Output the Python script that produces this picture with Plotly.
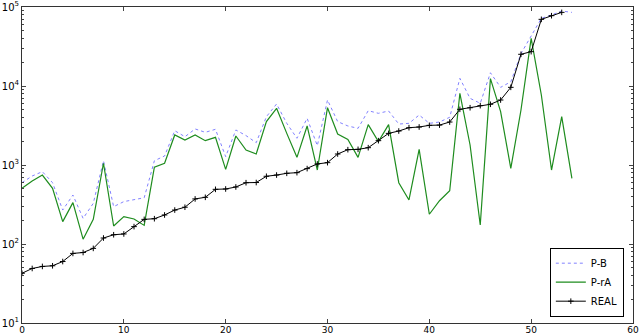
import plotly.graph_objects as go

x_pb = list(range(55))
x_real = list(range(54))

p_b = [597, 726, 823, 597, 269, 417, 211, 327, 1133, 297,
       344, 367, 385, 1133, 1300, 2717, 2280, 2860, 2593, 2831,
       1275, 2776, 2356, 1915, 4090, 5920, 3370, 2180, 3900, 1757,
       6650, 3540, 3120, 2910, 4870, 4510, 4830, 3300, 3370, 4290,
       3370, 3500, 4020, 12500, 6980, 6040, 14700, 9620, 11300, 25700,
       42100, 71900, 79300, 89000, 85500]

p_ra = [507, 627, 746, 507, 192, 334, 115, 205, 1052, 169,
        222, 207, 172, 936, 1052, 2400, 2070, 2400, 2032, 2240,
        880, 2330, 1549, 1378, 3540, 5220, 2515, 1250, 3120, 864,
        5310, 2466, 2110, 1250, 3240, 1973, 3240, 597, 361, 1580,
        238, 353, 473, 8090, 1792, 174, 12400, 4730, 907, 4970,
        40100, 7690, 864, 4090, 679]

real = [42.6, 49, 52, 53, 60, 76, 78, 88, 119, 131,
        134, 166, 205, 209, 233, 269, 292, 372, 390, 492,
        497, 527, 597, 600, 720, 746, 785, 800, 900, 1031,
        1071, 1378, 1563, 1578, 1656, 2032, 2515, 2692, 2966, 3027,
        3178, 3200, 3500, 5070, 5310, 5640, 5870, 6650, 9620, 25200,
        27200, 69800, 77600, 85500]

x_ticks = [0, 10, 20, 30, 40, 50, 60]
y_ticks = [10, 100, 1000, 10000, 100000]
y_ticktext = ["10<sup>1</sup>", "10<sup>2</sup>", "10<sup>3</sup>",
              "10<sup>4</sup>", "10<sup>5</sup>"]
y_minor = [m * 10 ** e for e in range(1, 5) for m in range(2, 10)]

fig = go.Figure()
fig.add_trace(go.Scatter(x=x_pb, y=p_b, mode="lines", name="P-B",
                         line=dict(color="rgb(130,130,255)", width=1, dash="dot")))
fig.add_trace(go.Scatter(x=x_pb, y=p_ra, mode="lines", name="P-rA",
                         line=dict(color="rgb(30,140,30)", width=1.2)))
fig.add_trace(go.Scatter(x=x_real, y=real, mode="lines+markers", name="REAL",
                         line=dict(color="black", width=1),
                         marker=dict(symbol="cross-thin", size=4,
                                     line=dict(color="black", width=1))))

axis_font = dict(family="DejaVu Sans", size=10, color="black")
fig.update_layout(
    width=640, height=335,
    margin=dict(l=22, r=7, t=7, b=12),
    paper_bgcolor="white", plot_bgcolor="white",
    font=axis_font,
    showlegend=True,
    legend=dict(x=0.985, y=0.02, xanchor="right", yanchor="bottom",
                bgcolor="white", bordercolor="black", borderwidth=1,
                font=dict(family="DejaVu Sans", size=10, color="black"),
                tracegroupgap=0, itemwidth=30),
    xaxis=dict(range=[0, 60], tickvals=x_ticks, ticks="inside", ticklen=4,
               showgrid=False, zeroline=False, showline=True, linecolor="#333",
               linewidth=1, mirror="allticks", automargin=False,
               tickfont=dict(family="DejaVu Sans", size=9, color="black"),
               ticklabelstandoff=-2),
    yaxis=dict(type="log", range=[1, 5], tickvals=y_ticks, ticktext=y_ticktext,
               ticks="inside", ticklen=4, showgrid=False, zeroline=False,
               showline=True, linecolor="#333", linewidth=1, mirror="allticks",
               automargin=False, tickfont=axis_font,
               minor=dict(tickmode="array", tickvals=y_minor, ticks="inside",
                          ticklen=2, showgrid=False)),
)

fig.write_html("out.html", config={"displayModeBar": False},
               post_script="document.body.style.margin='0';")
